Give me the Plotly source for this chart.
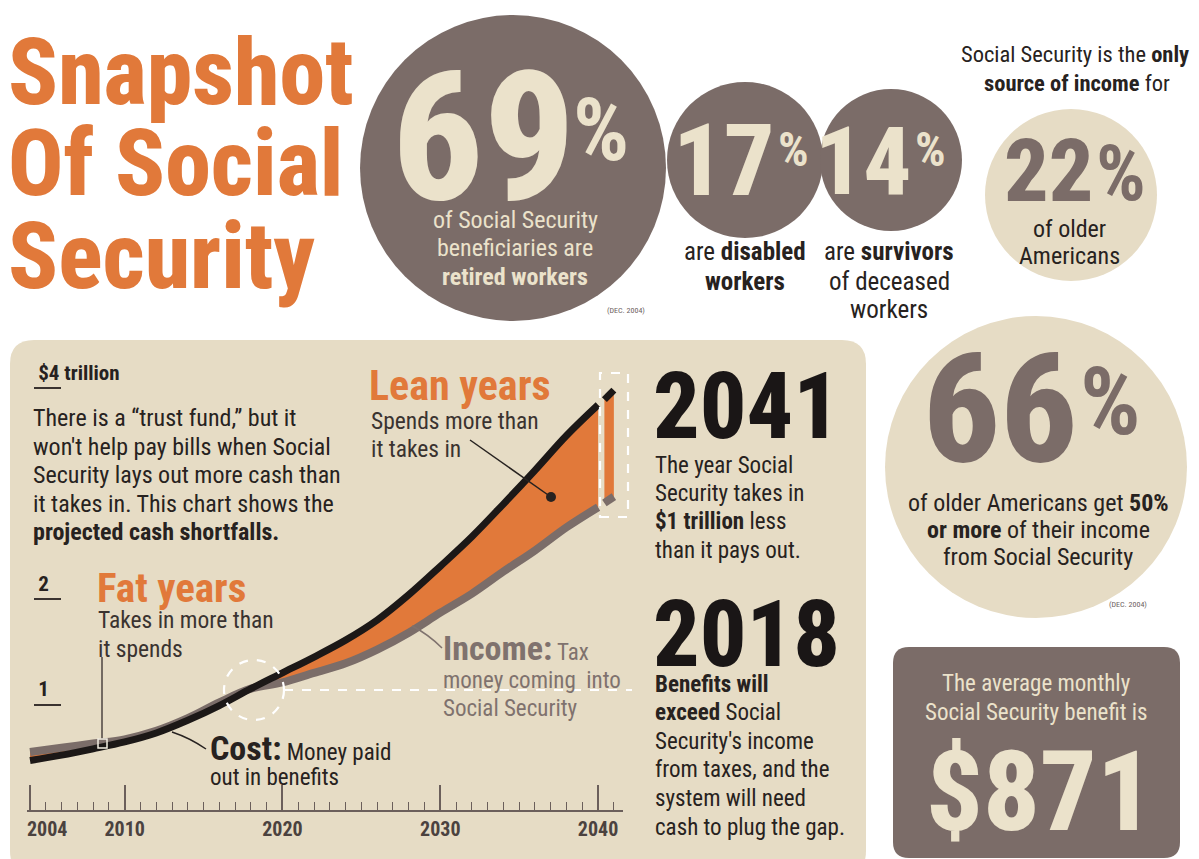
import plotly.graph_objects as go

W, H = 1199, 859

# ---------------- data ----------------
years = [2004, 2006, 2008, 2010, 2012, 2014, 2016, 2018, 2020, 2022,
         2024, 2026, 2028, 2030, 2032, 2034, 2036, 2038, 2040]
cost = [0.47, 0.52, 0.58, 0.645, 0.73, 0.85, 0.99, 1.15, 1.30, 1.45,
        1.61, 1.80, 2.04, 2.31, 2.59, 2.90, 3.22, 3.55, 3.84]
income = [0.55, 0.59, 0.63, 0.67, 0.75, 0.87, 1.02, 1.15, 1.21, 1.30,
          1.39, 1.52, 1.68, 1.87, 2.05, 2.26, 2.46, 2.68, 2.87]

slice_years = [2040.4, 2041.0]
slice_cost = [3.89, 3.98]
slice_income = [2.91, 2.97]

axis_years = [2004, 2010, 2020, 2030, 2040]
axis_year_labels = ["\u200b", "2010", "2020", "2030", "2040"]
first_year_label = "2004"
minor_years = list(range(2004, 2042))
value_ticks = [1, 2, 4]
value_tick_labels = ["1", "2", "$4 trillion"]

pct_retired, pct_disabled, pct_survivors = "69", "17", "14"
pct_only_source, pct_half_income = "22", "66"
avg_benefit = "$871"

# ---------------- styling ----------------
COND = "'Roboto Condensed', 'DejaVu Sans Condensed', sans-serif"
ORANGE = "#e1793a"
TAUPE = "#7b6c68"
BEIGE = "#e6dcc5"
LIGHT = "#ebe2cb"
INK = "#272220"
GRAYTXT = "#7f726e"
BODY = 24

def X(px):
    return px / W

def Y(py):
    return 1 - py / H

shapes = []
ann = []

def t(x, y, text, size, color=INK, anchor="left", weight=None):
    f = dict(size=size, color=color, family=COND)
    if weight:
        f["weight"] = weight
    ann.append(dict(x=X(x), y=Y(y), xref="paper", yref="paper", text=text,
                    showarrow=False, xanchor=anchor, yanchor="middle", font=f))

def circle(cx, cy, r, color):
    shapes.append(dict(type="circle", xref="paper", yref="paper", layer="below",
                       x0=X(cx - r), x1=X(cx + r), y0=Y(cy + r), y1=Y(cy - r),
                       fillcolor=color, line=dict(width=0)))

def rrect(x0, y0, x1, y1, r, color):
    p = (f"M {X(x0 + r)},{Y(y0)} L {X(x1 - r)},{Y(y0)} Q {X(x1)},{Y(y0)} {X(x1)},{Y(y0 + r)} "
         f"L {X(x1)},{Y(y1 - r)} Q {X(x1)},{Y(y1)} {X(x1 - r)},{Y(y1)} "
         f"L {X(x0 + r)},{Y(y1)} Q {X(x0)},{Y(y1)} {X(x0)},{Y(y1 - r)} "
         f"L {X(x0)},{Y(y0 + r)} Q {X(x0)},{Y(y0)} {X(x0 + r)},{Y(y0)} Z")
    shapes.append(dict(type="path", xref="paper", yref="paper", layer="below",
                       path=p, fillcolor=color, line=dict(width=0)))

def line(x0, y0, x1, y1, color, width=1.5, dash="solid", layer="above"):
    shapes.append(dict(type="line", xref="paper", yref="paper", layer=layer,
                       x0=X(x0), y0=Y(y0), x1=X(x1), y1=Y(y1),
                       line=dict(color=color, width=width, dash=dash)))

# ---------------- background blocks ----------------
rrect(10, 340, 866, 875, 24, BEIGE)          # chart panel
circle(513, 168, 153, TAUPE)                 # 69%
circle(745, 160, 78, TAUPE)                  # 17%
circle(891, 160, 71, TAUPE)                  # 14%
circle(1071, 195, 86, BEIGE)                 # 22%
circle(1036, 467, 151, BEIGE)                # 66%
rrect(893, 647, 1180, 858, 16, TAUPE)        # $871 box

# ---------------- title ----------------
for i, w in enumerate(["Snapshot", "Of Social", "Security"]):
    t(6, 72 + i * 92, w, 92, ORANGE, weight=800)

# ---------------- circles text ----------------
t(577, 138, pct_retired, 180, LIGHT, anchor="right", weight=800)
t(571, 129, "%", 88, LIGHT, weight=700)
for i, s in enumerate(["of Social Security", "beneficiaries are", "<b>retired workers</b>"]):
    t(515, 220 + i * 28.5, s, BODY, LIGHT, anchor="center")
t(626, 310, "(DEC. 2004)", 8, "#6d625e", anchor="center")

t(777, 161, pct_disabled, 100, LIGHT, anchor="right", weight=800)
t(776, 149, "%", 48, LIGHT, weight=700)
t(745, 252, "are <b>disabled</b>", 25, INK, anchor="center")
t(745, 281, "<b>workers</b>", 25, INK, anchor="center")

t(914, 162, pct_survivors, 95, LIGHT, anchor="right", weight=800)
t(913, 149, "%", 48, LIGHT, weight=700)
t(889, 252, "are <b>survivors</b>", 25, INK, anchor="center")
t(889, 281, "of deceased", 25, INK, anchor="center")
t(889, 309, "workers", 25, INK, anchor="center")

t(1075, 54, "Social Security is the <b>only</b>", 22.5, INK, anchor="center")
t(1077, 83, "<b>source of income</b> for", 22.5, INK, anchor="center")
t(1095, 170, pct_only_source, 88, TAUPE, anchor="right", weight=800)
t(1094, 173, "%", 78, TAUPE, weight=700)
t(1069, 229, "of older", BODY, INK, anchor="center")
t(1069, 256, "Americans", BODY, INK, anchor="center")

t(1080, 410, pct_half_income, 152, TAUPE, anchor="right", weight=800)
t(1078, 401, "%", 95, TAUPE, weight=700)
t(1038, 503, "of older Americans get <b>50%</b>", BODY, INK, anchor="center")
t(1038, 530, "<b>or more</b> of their income", BODY, INK, anchor="center")
t(1038, 557, "from Social Security", BODY, INK, anchor="center")
t(1128, 604, "(DEC. 2004)", 8, "#6d625e", anchor="center")

t(1036, 683, "The average monthly", 23, LIGHT, anchor="center")
t(1036, 712, "Social Security benefit is", 23, LIGHT, anchor="center")
t(1040, 791, avg_benefit, 112, LIGHT, anchor="center", weight=800)

# ---------------- chart text ----------------
para = ["There is a \u201ctrust fund,\u201d but it",
        "won't help pay bills when Social",
        "Security lays out more cash than",
        "it takes in. This chart shows the",
        "<b>projected cash shortfalls.</b>"]
for i, s in enumerate(para):
    t(31, 418 + i * 28.6, s, 24, INK)

t(367, 386, "Lean years", 42, ORANGE, weight=700)
t(369, 421, "Spends more than", 23.5, "#3a3330")
t(369, 449, "it takes in", 23.5, "#3a3330")

t(95, 588, "Fat years", 41, ORANGE, weight=700)
t(96, 620, "Takes in more than", 23.5, "#3a3330")
t(96, 649, "it spends", 23.5, "#3a3330")

t(441, 648, "<b><span style='font-size:34px'>Income:</span></b> Tax", 23, GRAYTXT)
t(441, 680, "money coming  into", 23, GRAYTXT)
t(441, 708, "Social Security", 23, GRAYTXT)

t(208, 748, "<b><span style='font-size:34px'>Cost:</span></b> Money paid", 23, INK)
t(208, 777, "out in benefits", 23, INK)

t(651, 406, "2041", 92, "#1a1616", weight=800)
for i, s in enumerate(["The year Social", "Security takes in",
                       "<b>$1 trillion</b> less", "than it pays out."]):
    t(653, 465 + i * 28.4, s, 23, INK)

t(651, 634, "2018", 92, "#1a1616", weight=800)
for i, s in enumerate(["<b>Benefits will</b>", "<b>exceed</b> Social",
                       "Security's income", "from taxes, and the",
                       "system will need", "cash to plug the gap."]):
    t(653, 684 + i * 28.6, s, 23, INK)

# first x tick label, left-aligned on its tick like the original
ann.append(dict(x=axis_years[0], y=Y(829), xref="x", yref="paper", text=f"<b>{first_year_label}</b>",
                showarrow=False, xanchor="left", yanchor="middle", xshift=-5,
                font=dict(family=COND, size=20, color="#4b423f")))

# ---------------- pointer lines and dashed highlights ----------------
line(102, 657, 102, 739, "#4d4440", 1.5)
shapes.append(dict(type="rect", xref="paper", yref="paper", layer="above",
                   x0=X(98), x1=X(107), y0=Y(748), y1=Y(739),
                   line=dict(color="#f4efe4", width=1.5)))
shapes.append(dict(type="path", xref="paper", yref="paper", layer="above",
                   path=f"M {X(206)},{Y(749)} Q {X(190)},{Y(738)} {X(172)},{Y(732)}",
                   line=dict(color=INK, width=1.5)))
shapes.append(dict(type="path", xref="paper", yref="paper", layer="above",
                   path=f"M {X(442)},{Y(648)} Q {X(428)},{Y(634)} {X(412)},{Y(626)}",
                   line=dict(color=GRAYTXT, width=1.5)))
line(470, 440, 551, 497, INK, 1.5)
shapes.append(dict(type="circle", xref="paper", yref="paper", layer="above",
                   x0=X(546), x1=X(556), y0=Y(502), y1=Y(492),
                   fillcolor=INK, line=dict(width=0)))

shapes.append(dict(type="circle", xref="paper", yref="paper", layer="above",
                   x0=X(224), x1=X(284), y0=Y(720), y1=Y(660),
                   line=dict(color="white", width=2.2, dash="dash")))
line(284, 690, 632, 690, "white", 2.2, "dash")
shapes.append(dict(type="rect", xref="paper", yref="paper", layer="above",
                   x0=X(600), x1=X(628), y0=Y(517), y1=Y(373),
                   line=dict(color="white", width=2.2, dash="dash")))

# ---------------- traces ----------------
fig = go.Figure()
fig.add_trace(go.Scatter(x=years, y=income, mode="lines", hoverinfo="skip",
                         line=dict(color="#7b6d69", width=8, shape="spline")))
fig.add_trace(go.Scatter(x=years, y=cost, mode="lines", fill="tonexty",
                         fillcolor=ORANGE, hoverinfo="skip",
                         line=dict(color="#1c1817", width=7, shape="spline")))
fig.add_trace(go.Scatter(x=slice_years, y=slice_income, mode="lines", hoverinfo="skip",
                         line=dict(color="#7b6d69", width=8)))
fig.add_trace(go.Scatter(x=slice_years, y=slice_cost, mode="lines", fill="tonexty",
                         fillcolor=ORANGE, hoverinfo="skip",
                         line=dict(color="#1c1817", width=7)))

PXY, X2004 = 15.78, 30.0
xr = [2003.8, 2041.6]
PXT, Y0 = 105.5, 810.0
yr = [0, 4.3]

fig.update_layout(
    width=W, height=H, margin=dict(l=0, r=0, t=0, b=0, autoexpand=False),
    paper_bgcolor="white", plot_bgcolor="rgba(0,0,0,0)",
    showlegend=False, shapes=shapes, annotations=ann,
    xaxis=dict(range=xr, automargin=False,
               domain=[X(X2004 + (xr[0] - 2004) * PXY), X(X2004 + (xr[1] - 2004) * PXY)],
               tickmode="array", tickvals=axis_years, ticktext=axis_year_labels,
               ticks="inside", ticklen=25, tickwidth=1.5, tickcolor="#6b5f5b",
               showline=True, linecolor="#6b5f5b", linewidth=2,
               showgrid=False, zeroline=False, ticklabeloverflow="allow",
               tickfont=dict(family=COND, size=20, color="#4b423f", weight="bold"),
               minor=dict(tickmode="array", tickvals=minor_years, ticks="inside",
                          ticklen=8, tickwidth=1.2, tickcolor="#6b5f5b", showgrid=False),
               fixedrange=True),
    yaxis=dict(range=yr, automargin=False,
               domain=[Y(Y0), Y(Y0 - (yr[1] - yr[0]) * PXT)],
               anchor="free", position=X(33), side="right",
               tickmode="array", tickvals=value_ticks, ticktext=value_tick_labels,
               ticks="outside", ticklen=27, tickwidth=1.5, tickcolor="#3a3330",
               ticklabelposition="outside top", ticklabeloverflow="allow",
               tickfont=dict(family=COND, size=21, color="#262120", weight="bold"),
               showline=False, showgrid=False, zeroline=False, fixedrange=True),
)

fig.write_html("out.html", config={"displayModeBar": False},
               post_script="document.body.style.margin='0';document.body.style.overflow='hidden';")
